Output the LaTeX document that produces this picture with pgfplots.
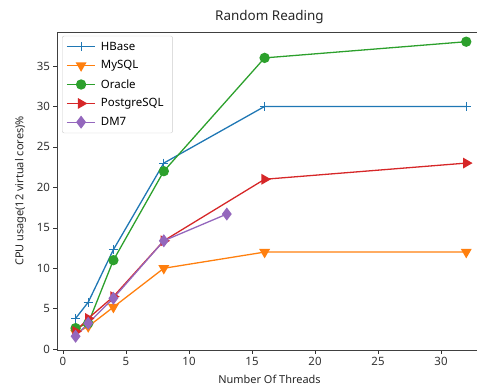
\documentclass[border=0pt]{standalone}
\usepackage{fontspec}
\setmainfont{Noto Sans}
\usepackage{pgfplots}
\pgfplotsset{compat=1.18}
\definecolor{c1}{HTML}{1F77B4}
\definecolor{c2}{HTML}{FF7F0E}
\definecolor{c3}{HTML}{2CA02C}
\definecolor{c4}{HTML}{D62728}
\definecolor{c5}{HTML}{9467BD}
\begin{document}
\begin{tikzpicture}
\begin{axis}[
  scale only axis,
  width=425bp, height=318bp,
  xmin=-0.476, xmax=33.25,
  ymin=-0.1, ymax=39.2,
  xtick={0,5,10,15,20,25,30},
  ytick={0,5,10,15,20,25,30,35},
  tick pos=left,
  tick align=outside,
  major tick length=3.5bp,
  tick style={black!80, line width=0.6pt},
  axis line style={black!75, line width=0.8pt},
  /pgf/number format/assume math mode=true,
  ticklabel style={font=\fontsize{11.5}{13}\selectfont, text=black!80},
  title={Random Reading},
  title style={font=\fontsize{13.5}{15}\selectfont, text=black!85, yshift=-1bp},
  xlabel={Number Of Threads},
  ylabel={CPU usage(12 virtual cores)\%},
  label style={font=\fontsize{11}{13}\selectfont, text=black!85},
  xlabel style={yshift=-3bp},
  ylabel style={yshift=4bp},
  legend cell align=left,
  legend style={font=\fontsize{11.5}{13}\selectfont, draw=black!20, rounded corners=2pt, inner xsep=4pt, inner ysep=4pt, row sep=5pt, at={(0.012,0.988)}, anchor=north west, nodes={inner xsep=5pt}},
  legend image code/.code={\draw[mark repeat=2,mark phase=2] plot coordinates {(0cm,0cm) (0.5cm,0cm) (1.0cm,0cm)};},
  every axis plot/.append style={line width=1.3pt},
]
\addplot[color=c1, mark=+, mark size=4.5bp, mark options={line width=1pt}] coordinates {(1,3.8) (2,5.8) (4,12.3) (8,23) (16,30) (32,30)};
\addlegendentry{HBase}
\addplot[color=c2, mark=triangle*, mark size=5bp, mark options={rotate=180}] coordinates {(1,2.0) (2,2.8) (4,5.2) (8,10) (16,12) (32,12)};
\addlegendentry{MySQL}
\addplot[color=c3, mark=*, mark size=4.5bp] coordinates {(1,2.6) (2,3.2) (4,11) (8,22) (16,36) (32,38)};
\addlegendentry{Oracle}
\addplot[color=c4, mark=triangle*, mark size=5bp, mark options={rotate=-90}] coordinates {(1,2.2) (2,3.8) (4,6.5) (8,13.4) (16,21) (32,23)};
\addlegendentry{PostgreSQL}
\addplot[color=c5, mark=diamond*, mark size=5.5bp] coordinates {(1,1.6) (2,3.2) (4,6.3) (8,13.4) (13,16.7)};
\addlegendentry{DM7}
\end{axis}
\pgfresetboundingbox
\useasboundingbox (current axis.south west) ++(-57bp,-42bp) rectangle ++(477bp,392bp);
\end{tikzpicture}
\end{document}
